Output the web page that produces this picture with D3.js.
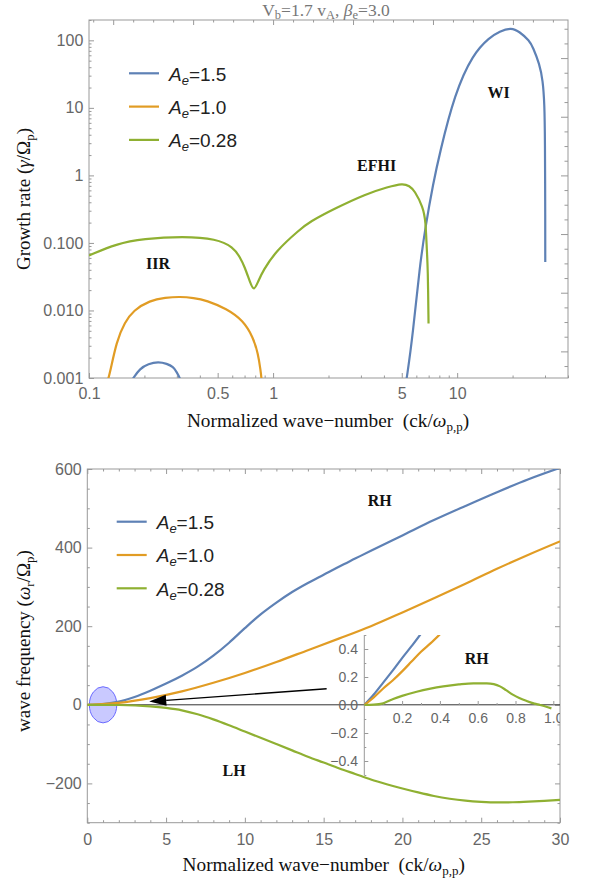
<!DOCTYPE html>
<html>
<head>
<meta charset="utf-8">
<script src="https://cdn.jsdelivr.net/npm/d3@7/dist/d3.min.js"></script>
<style>
  html, body { margin: 0; padding: 0; background: #fff; }
  svg { display: block; }
</style>
</head>
<body>
<svg id="chart" width="590" height="888"></svg>
<script>
// ---------------- data ----------------
const seriesLabels = ["1.5", "1.0", "0.28"];
const seriesColors = ["#5e81b5", "#e19c24", "#8fb032"];

// Growth rate γ/Ωp versus normalized wave-number ck/ωp,p  — [k, γ]
const growthA15Low = [[0.165,0.0008],[0.174,0.001],[0.189,0.00138],[0.21,0.00162],[0.238,0.00174],[0.265,0.00163],[0.287,0.00146],[0.299,0.00123],[0.312,0.001],[0.32,0.0008]];
const growthA15High = [[5.2,0.0007],[5.33,0.001],[5.75,0.00454],[6.25,0.0439],[6.74,0.18],[7.4,0.75],[8.03,2.11],[9.68,16.1],[12.17,62.9],[15.0,110.7],[17.0,136],[19.7,155],[21.8,134],[24.7,99],[25.8,78.8],[28.0,44.8],[29.2,25.4],[29.8,11.5],[30.0,3.7],[30.1,0.2],[30.1,0.052]];
const growthA10 = [[0.124,0.0008],[0.1284,0.001],[0.1413,0.0036],[0.1567,0.0067],[0.174,0.0100],[0.214,0.0141],[0.26,0.0155],[0.312,0.0160],[0.37,0.0154],[0.435,0.0141],[0.559,0.0106],[0.688,0.0071],[0.779,0.0040],[0.829,0.0023],[0.855,0.0013],[0.865,0.001],[0.868,0.0008]];
const growthA028 = [[0.1,0.065],[0.1413,0.0973],[0.197,0.1153],[0.325,0.1247],[0.493,0.1153],[0.607,0.0867],[0.66,0.062],[0.702,0.0438],[0.75,0.026],[0.786,0.019],[0.83,0.027],[0.883,0.0392],[1.043,0.0775],[1.396,0.158],[1.58,0.205],[2.12,0.315],[3.21,0.535],[4.2,0.673],[5.07,0.765],[5.5,0.70],[5.87,0.598],[6.52,0.339],[6.74,0.215],[6.84,0.0775],[6.93,0.0438],[6.99,0.0064]];

const growthKTicks = [0.1, 0.5, 1, 5, 10];
const growthKTickLabels = ["0.1", "0.5", "1", "5", "10"];
const growthKMinor = [0.2,0.3,0.4,0.6,0.7,0.8,0.9,2,3,4,6,7,8,9,20,30,40];
const growthGammaTicks = [0.001, 0.01, 0.1, 1, 10, 100];
const growthGammaTickLabels = ["0.001", "0.010", "0.100", "1", "10", "100"];
const growthRegions = [
  { name: "IIR", k: 0.237, g: 0.0498 },
  { name: "EFHI", k: 3.65, g: 1.37 },
  { name: "WI", k: 16.8, g: 17.0 }
];

// Real frequency ωr/Ωp versus normalized wave-number — [k, ω]
const dispA15 = [[0,0],[1,2],[2,8],[3,20],[4,36],[5,54],[6,74],[7,97],[8,125],[9,158],[10,195],[11,230],[12,260],[13,287],[14,310],[15,331],[16,352],[17,372],[18,392],[20,431],[22,470],[24,506],[26,541],[28,574],[30,603]];
const dispA10 = [[0,0],[2,5],[4,17],[6,34],[8,56],[10,81],[12,109],[14,139],[16,169],[18,200],[20,235],[22,271],[24,308],[26,346],[28,382],[30,416]];
const dispA028 = [[0,0],[2,-0.5],[4,-4],[5,-8],[6,-14],[7,-24],[8,-37],[9,-52],[10,-68],[11,-84],[12,-100],[13,-116],[14,-132],[15,-147],[16,-162],[17,-176],[18,-190],[19,-202],[20,-213],[21,-223],[22,-232],[23,-239],[24,-244],[25,-247],[26,-248.5],[27,-248],[28,-246.5],[29,-244.5],[30,-242]];

// small-k detail of the same branches
const insetA15 = [[0,0],[0.05,0.075],[0.1,0.16],[0.15,0.245],[0.2,0.335],[0.25,0.42],[0.3,0.51],[0.33,0.57]];
const insetA10 = [[0,0],[0.05,0.055],[0.1,0.118],[0.15,0.175],[0.2,0.24],[0.25,0.31],[0.3,0.38],[0.35,0.44],[0.4,0.505],[0.43,0.545]];
const insetA028 = [[0,0],[0.05,0.002],[0.1,0.012],[0.153,0.043],[0.2,0.065],[0.277,0.095],[0.35,0.117],[0.418,0.133],[0.5,0.147],[0.577,0.155],[0.648,0.155],[0.685,0.149],[0.718,0.133],[0.75,0.106],[0.788,0.072],[0.82,0.05],[0.859,0.029],[0.9,0.01],[0.93,0],[0.99,-0.024]];

const dispKTicks = [0, 5, 10, 15, 20, 25, 30];
const dispWTicks = [-200, 0, 200, 400, 600];
const insetKTicks = [0.2, 0.4, 0.6, 0.8, 1.0];
const insetWTicks = [-0.4, -0.2, 0, 0.2, 0.4];
const dispRegions = [{ name: "RH", k: 18.56, w: 518.7 }, { name: "LH", k: 9.32, w: -168.5 }];
const insetRegions = [{ name: "RH", k: 0.595, w: 0.333 }];

// highlighted small-k region and the pointer towards it
const focusCenter = [1.0, 0];
const focusRadii = [0.87, 46];
const pointerFrom = [15.19, 40.8];
const pointerTo = [3.93, 8.4];

// ---------------- drawing ----------------
const FRAME = "#999", TICKTXT = "#666";
const SANS = "'Liberation Sans', Arial, sans-serif";
const SERIF = "'Liberation Serif', 'Times New Roman', serif";
const svg = d3.select("#chart");

function styleAxis(g, fontSize) {
  g.select(".domain").remove();
  g.selectAll(".tick line").attr("stroke", FRAME).attr("stroke-width", 1);
  g.selectAll(".tick text").attr("fill", TICKTXT)
    .style("font-family", SANS).style("font-size", fontSize + "px");
  return g;
}
function axis(parent, gen, tx, ty, fontSize) {
  return styleAxis(parent.append("g").attr("transform", `translate(${tx},${ty})`).call(gen), fontSize || 16);
}
// text with italic pieces and subscripts
function rich(sel, parts, shift, subSize) {
  let down = false;
  parts.forEach(p => {
    const ts = sel.append("tspan").text(p.t);
    if (p.i) ts.style("font-style", "italic");
    if (p.sub) {
      ts.style("font-size", subSize + "px");
      if (!down) { ts.attr("dy", shift); down = true; }
    } else if (down) { ts.attr("dy", -shift); down = false; }
  });
  return sel;
}
const line = (x, y, curve) => d3.line().x(d => x(d[0])).y(d => y(d[1])).curve(curve);

// ===== upper panel: growth rate =====
const gx = d3.scaleLog().domain([0.1, 40]).range([89, 568]);
const gy = d3.scaleLog().domain([0.001, 200]).range([378, 20]);

svg.append("clipPath").attr("id", "clipTop").append("rect")
  .attr("x", gx.range()[0]).attr("y", gy.range()[1])
  .attr("width", gx.range()[1] - gx.range()[0]).attr("height", gy.range()[0] - gy.range()[1]);

const upper = svg.append("g");
upper.append("rect").attr("x", 89).attr("y", 20).attr("width", 479).attr("height", 358)
  .attr("fill", "none").attr("stroke", FRAME).attr("stroke-width", 1);

// bottom frame ticks (log)
axis(upper, d3.axisBottom(gx).tickValues(growthKTicks).tickFormat((d, i) => growthKTickLabels[i]).tickSize(-5).tickPadding(10), 0, 378);
axis(upper, d3.axisBottom(gx).tickValues(growthKMinor).tickFormat("").tickSize(-2.5), 0, 378);
// top frame ticks at e^n
const lnMajK = d3.range(-2, 4).map(n => Math.exp(n));
const lnMinK = d3.range(-9, 15).filter(m => m % 4 !== 0).map(m => Math.exp(m / 4));
axis(upper, d3.axisTop(gx).tickValues(lnMajK).tickFormat("").tickSize(-5), 0, 20);
axis(upper, d3.axisTop(gx).tickValues(lnMinK).tickFormat("").tickSize(-2.5), 0, 20);
// left frame ticks (log)
const gMinor = [];
[0.001, 0.01, 0.1, 1, 10, 100].forEach(b => d3.range(2, 10).forEach(m => { if (b * m <= 200) gMinor.push(b * m); }));
axis(upper, d3.axisLeft(gy).tickValues(growthGammaTicks).tickFormat((d, i) => growthGammaTickLabels[i]).tickSize(-5).tickPadding(5.7), 89, 0);
axis(upper, d3.axisLeft(gy).tickValues(gMinor).tickFormat("").tickSize(-2.5), 89, 0);
// right frame ticks at e^(2n)
const lnMajG = d3.range(-3, 3).map(n => Math.exp(2 * n));
const lnMinG = d3.range(-13, 11).filter(m => m % 4 !== 0).map(m => Math.exp(m / 2));
axis(upper, d3.axisRight(gy).tickValues(lnMajG).tickFormat("").tickSize(-7), 568, 0);
axis(upper, d3.axisRight(gy).tickValues(lnMinG).tickFormat("").tickSize(-3.5), 568, 0);

const topCurves = upper.append("g").attr("clip-path", "url(#clipTop)");
const topSeries = [[growthA15Low, 0], [growthA15High, 0], [growthA10, 1], [growthA028, 2]];
topSeries.forEach(([d, c]) => topCurves.append("path").datum(d)
  .attr("d", line(gx, gy, d3.curveBasis)).attr("fill", "none")
  .attr("stroke", seriesColors[c]).attr("stroke-width", 2.2));

upper.selectAll(".region").data(growthRegions).join("text")
  .attr("x", d => gx(d.k)).attr("y", d => gy(d.g)).attr("dy", "0.33em")
  .attr("text-anchor", "middle").style("font-family", SERIF).style("font-weight", "bold")
  .style("font-size", "16px").attr("fill", "#111").text(d => d.name);

// title
rich(svg.append("text").attr("x", 326).attr("y", 15.5).attr("text-anchor", "middle")
  .style("font-family", SERIF).style("font-size", "17.5px").attr("fill", "#777"),
  [{ t: "V" }, { t: "b", sub: 1 }, { t: "=1.7 v" }, { t: "A", sub: 1 }, { t: ", " }, { t: "β", i: 1 }, { t: "e", sub: 1 }, { t: "=3.0" }], 3.5, 12.5);

// axis titles
rich(svg.append("text").attr("transform", "translate(30,199) rotate(-90)").attr("text-anchor", "middle")
  .style("font-family", SERIF).style("font-size", "19px").attr("fill", "#111"),
  [{ t: "Growth rate (" }, { t: "γ", i: 1 }, { t: "/Ω" }, { t: "p", sub: 1 }, { t: ")" }], 4, 13);
const xTitle = [{ t: "Normalized wave\u2212number\u00a0\u00a0(ck/" }, { t: "ω", i: 1 }, { t: "p,p", sub: 1 }, { t: ")" }];
rich(svg.append("text").attr("x", 328).attr("y", 427).attr("text-anchor", "middle")
  .style("font-family", SERIF).style("font-size", "19.3px").attr("fill", "#111"), xTitle, 4, 13);

function legend(x0, y0) {
  seriesLabels.forEach((lab, i) => {
    const y = y0 + i * 33.3;
    svg.append("line").attr("x1", x0).attr("x2", x0 + 30).attr("y1", y).attr("y2", y)
      .attr("stroke", seriesColors[i]).attr("stroke-width", 2.2);
    rich(svg.append("text").attr("x", x0 + 40).attr("y", y + 7.2)
      .style("font-family", SANS).style("font-size", "19px").attr("fill", "#222"),
      [{ t: "A", i: 1 }, { t: "e", i: 1, sub: 1 }, { t: "=" + lab }], 4, 13);
  });
}
legend(129, 73.3);

// ===== lower panel: dispersion =====
const bx = d3.scaleLinear().domain([0, 30]).range([87.3, 560]);
const by = d3.scaleLinear().domain([-300, 600]).range([822.7, 469]);

svg.append("clipPath").attr("id", "clipBottom").append("rect")
  .attr("x", bx.range()[0]).attr("y", by.range()[1])
  .attr("width", bx.range()[1] - bx.range()[0]).attr("height", by.range()[0] - by.range()[1]);

const lower = svg.append("g");
lower.append("rect").attr("x", 87.3).attr("y", 469).attr("width", 560 - 87.3).attr("height", 822.7 - 469)
  .attr("fill", "none").attr("stroke", FRAME).attr("stroke-width", 1);
const kMinor = d3.range(0, 31).filter(v => v % 5 !== 0);
const wMinor = d3.range(-300, 601, 50).filter(v => v % 200 !== 0);
axis(lower, d3.axisBottom(bx).tickValues(dispKTicks).tickFormat(d3.format("d")).tickSize(-5).tickPadding(11), 0, 822.7);
axis(lower, d3.axisBottom(bx).tickValues(kMinor).tickFormat("").tickSize(-2.5), 0, 822.7);
axis(lower, d3.axisTop(bx).tickValues(dispKTicks).tickFormat("").tickSize(-5), 0, 469);
axis(lower, d3.axisTop(bx).tickValues(kMinor).tickFormat("").tickSize(-2.5), 0, 469);
axis(lower, d3.axisLeft(by).tickValues(dispWTicks).tickFormat(d3.format("d")).tickSize(-5).tickPadding(5.6), 87.3, 0);
axis(lower, d3.axisLeft(by).tickValues(wMinor).tickFormat("").tickSize(-2.5), 87.3, 0);
axis(lower, d3.axisRight(by).tickValues(dispWTicks).tickFormat("").tickSize(-5), 560, 0);
axis(lower, d3.axisRight(by).tickValues(wMinor).tickFormat("").tickSize(-2.5), 560, 0);

const lowPlot = lower.append("g").attr("clip-path", "url(#clipBottom)");
// highlighted region near k≈1
lowPlot.append("ellipse")
  .attr("cx", bx(focusCenter[0])).attr("cy", by(focusCenter[1]))
  .attr("rx", bx(focusRadii[0]) - bx(0)).attr("ry", by(0) - by(focusRadii[1]))
  .attr("fill", "#6a6aff").attr("fill-opacity", 0.36)
  .attr("stroke", "#6a6aff").attr("stroke-width", 1);
// zero line
lowPlot.append("line").attr("x1", bx(0)).attr("x2", bx(30)).attr("y1", by(0)).attr("y2", by(0))
  .attr("stroke", "#333").attr("stroke-width", 1);
[[dispA15, 0], [dispA10, 1], [dispA028, 2]].forEach(([d, c]) => lowPlot.append("path").datum(d)
  .attr("d", line(bx, by, d3.curveMonotoneX)).attr("fill", "none")
  .attr("stroke", seriesColors[c]).attr("stroke-width", 2.2));

// pointer
(function () {
  const tail = [bx(pointerFrom[0]), by(pointerFrom[1])];
  const tip = [bx(pointerTo[0]), by(pointerTo[1])];
  const dx = tail[0] - tip[0], dy = tail[1] - tip[1], len = Math.hypot(dx, dy);
  const ux = dx / len, uy = dy / len, nx = -uy, ny = ux;
  const L = 17, hw = 5.5;
  const base = [tip[0] + ux * L, tip[1] + uy * L];
  lowPlot.append("line").attr("x1", tail[0]).attr("y1", tail[1]).attr("x2", base[0]).attr("y2", base[1])
    .attr("stroke", "#000").attr("stroke-width", 1.3);
  lowPlot.append("path").attr("d", d3.line()([tip, [base[0] + nx * hw, base[1] + ny * hw], [base[0] - nx * hw, base[1] - ny * hw]]) + "Z")
    .attr("fill", "#000");
})();

lower.selectAll(".region").data(dispRegions).join("text")
  .attr("x", d => bx(d.k)).attr("y", d => by(d.w)).attr("dy", "0.33em")
  .attr("text-anchor", "middle").style("font-family", SERIF).style("font-weight", "bold")
  .style("font-size", "16px").attr("fill", "#111").text(d => d.name);

// ----- inset -----
const ix = d3.scaleLinear().domain([0, 1]).range([364.3, 553.3]);
const iy = d3.scaleLinear().domain([-0.5, 0.5]).range([775, 635]);
svg.append("clipPath").attr("id", "clipInset").append("rect")
  .attr("x", ix(0)).attr("y", iy(0.5)).attr("width", bx(30) - ix(0)).attr("height", iy(-0.5) - iy(0.5));

const ins = lowPlot.append("g");
const iyAxis = ins.append("g").attr("transform", `translate(${ix(0)},0)`)
  .call(d3.axisLeft(iy).tickValues(insetWTicks).tickFormat(d3.format(".1f")).tickSize(-4).tickSizeOuter(0).tickPadding(6.3));
styleAxis(iyAxis, 14);
iyAxis.insert("line", ":first-child").attr("x1", 0).attr("x2", 0).attr("y1", iy(0.5)).attr("y2", iy(-0.5))
  .attr("stroke", FRAME).attr("stroke-width", 1);
axis(ins, d3.axisLeft(iy).tickValues(d3.range(-5, 6).filter(v => v % 2 !== 0).map(v => v / 10)).tickFormat("").tickSize(-2), ix(0), 0);
axis(ins, d3.axisBottom(ix).tickValues(insetKTicks).tickFormat(d3.format(".1f")).tickSize(-4).tickPadding(8.4), 0, iy(0), 14);
axis(ins, d3.axisBottom(ix).tickValues([0.1, 0.3, 0.5, 0.7, 0.9]).tickFormat("").tickSize(-2), 0, iy(0));

const insCurves = ins.append("g").attr("clip-path", "url(#clipInset)");
[[insetA15, 0], [insetA10, 1], [insetA028, 2]].forEach(([d, c]) => insCurves.append("path").datum(d)
  .attr("d", line(ix, iy, d3.curveMonotoneX)).attr("fill", "none")
  .attr("stroke", seriesColors[c]).attr("stroke-width", 2.2));
ins.selectAll(".region").data(insetRegions).join("text")
  .attr("x", d => ix(d.k)).attr("y", d => iy(d.w)).attr("dy", "0.33em")
  .attr("text-anchor", "middle").style("font-family", SERIF).style("font-weight", "bold")
  .style("font-size", "16px").attr("fill", "#111").text(d => d.name);

// lower panel titles and legend
rich(svg.append("text").attr("transform", "translate(30,641) rotate(-90)").attr("text-anchor", "middle")
  .style("font-family", SERIF).style("font-size", "19px").attr("fill", "#111"),
  [{ t: "wave frequency (" }, { t: "ω", i: 1 }, { t: "r", sub: 1 }, { t: "/Ω" }, { t: "p", sub: 1 }, { t: ")" }], 4, 13);
rich(svg.append("text").attr("x", 323.7).attr("y", 871).attr("text-anchor", "middle")
  .style("font-family", SERIF).style("font-size", "19.3px").attr("fill", "#111"), xTitle, 4, 13);
legend(116.7, 521.7);
</script>
</body>
</html>
